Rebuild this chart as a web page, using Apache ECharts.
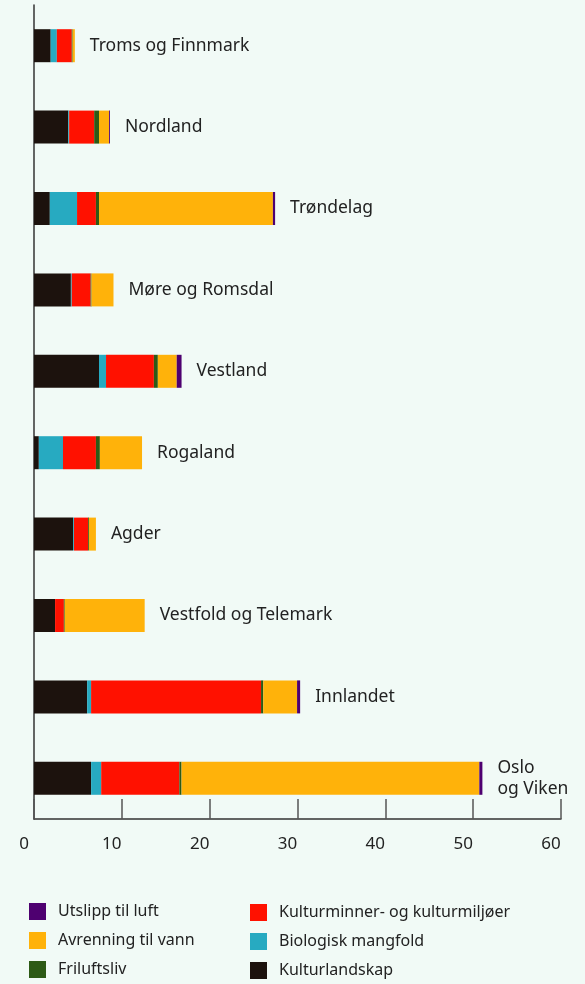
<!DOCTYPE html>
<html><head><meta charset="utf-8">
<script src="https://cdn.jsdelivr.net/npm/echarts@6/dist/echarts.min.js"></script>
<style>html,body{margin:0;padding:0;background:#f1faf6;}#c{width:585px;height:984px;}</style>
</head><body><div id="c"></div>
<script>
const categories = ['Troms og Finnmark','Nordland','Trøndelag','Møre og Romsdal','Vestland','Rogaland','Agder','Vestfold og Telemark','Innlandet','Oslo og Viken'];
const barLabels = ['Troms og Finnmark','Nordland','Trøndelag','Møre og Romsdal','Vestland','Rogaland','Agder','Vestfold og Telemark','Innlandet','Oslo\nog Viken'];
const kulturlandskap = [1.9, 3.9, 1.8, 4.2, 7.4, 0.55, 4.45, 2.4, 6.05, 6.5];
const biologisk = [0.7, 0.1, 3.1, 0.1, 0.8, 2.75, 0.1, 0, 0.45, 1.15];
const kulturminner = [1.7, 2.85, 2.15, 2.15, 5.45, 3.75, 1.6, 1.0, 19.35, 8.9];
const friluftsliv = [0.1, 0.55, 0.35, 0.1, 0.45, 0.45, 0.1, 0.1, 0.25, 0.25];
const avrenning = [0.25, 1.15, 19.8, 2.5, 2.15, 4.8, 0.8, 9.1, 3.85, 33.9];
const utslipp = [0, 0.1, 0.25, 0, 0.55, 0, 0, 0, 0.35, 0.35];
const xTicks = [0, 10, 20, 30, 40, 50, 60];

const names = ['Kulturlandskap','Biologisk mangfold','Kulturminner- og kulturmiljøer','Friluftsliv','Avrenning til vann','Utslipp til luft'];
const colors = ['#1c120d','#27aac1','#ff1100','#2d5a16','#ffb20a','#4e0070'];
const datas = [kulturlandskap, biologisk, kulturminner, friluftsliv, avrenning, utslipp];
const FONT = 'Noto Sans';

const series = names.map((n, i) => ({
  name: n, type: 'bar', stack: 'total', barWidth: 33,
  itemStyle: {color: colors[i]},
  data: datas[i],
  label: i === 5 ? {
    show: true, position: 'right', distance: 15,
    formatter: p => barLabels[p.dataIndex],
    color: '#222', fontSize: 17.5, fontFamily: FONT, lineHeight: 21, align: 'left'
  } : {show: false},
  emphasis: {disabled: true}
}));

const legendBase = {
  orient: 'vertical', type: 'plain', padding: 0, height: 80,
  itemWidth: 17, itemHeight: 17, itemGap: 12, icon: 'rect', selectedMode: false,
  textStyle: {color: '#222', fontSize: 16, fontFamily: FONT, padding: [0,0,0,7]}
};

const chart = echarts.init(document.getElementById('c'), null, {renderer: 'canvas'});
chart.setOption({
  backgroundColor: '#f1faf6',
  animation: false,
  grid: {left: 34, top: 5, width: 527, height: 814, containLabel: false},
  xAxis: {
    type: 'value', min: xTicks[0], max: xTicks[xTicks.length-1], interval: 10,
    axisLine: {show: true, lineStyle: {color: '#333', width: 1.5}},
    axisTick: {show: true, inside: true, length: 20, lineStyle: {color: '#555', width: 1.5}},
    splitLine: {show: false},
    axisLabel: {color: '#222', fontSize: 17, fontFamily: FONT, margin: 17, padding: [0, 20, 0, 0]}
  },
  yAxis: {
    type: 'category', data: categories, inverse: true,
    axisLine: {show: true, lineStyle: {color: '#333', width: 1.5}},
    axisTick: {show: false}, axisLabel: {show: false}
  },
  legend: [
    Object.assign({}, legendBase, {data: ['Utslipp til luft','Avrenning til vann','Friluftsliv'], left: 29, top: 903}),
    Object.assign({}, legendBase, {data: ['Kulturminner- og kulturmiljøer','Biologisk mangfold','Kulturlandskap'], left: 250, top: 904})
  ],
  series: series
});
</script></body></html>
